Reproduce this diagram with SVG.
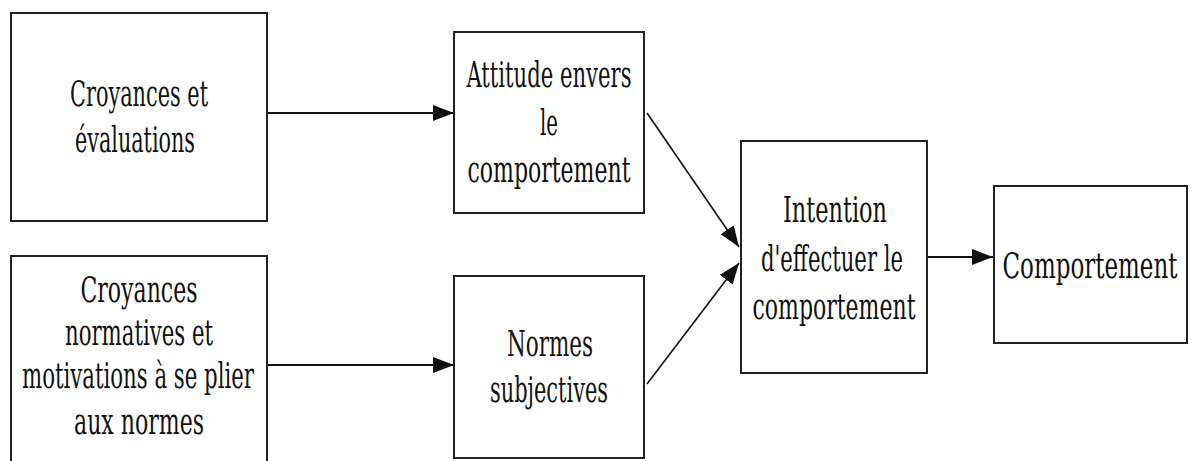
<svg xmlns="http://www.w3.org/2000/svg" width="1196" height="461" viewBox="0 0 1196 461">
  <style>
    .box { fill: #ffffff; stroke: #222222; stroke-width: 2; }
    .lbl { font-family: "DejaVu Serif Condensed", "DejaVu Serif", serif; font-stretch: condensed; font-size: 35px; fill: #111111; text-anchor: middle; }
    .edge { stroke: #111111; stroke-width: 2; fill: none; marker-end: url(#head); }
    .diag { stroke-width: 1.6; }
  </style>
  <defs>
    <marker id="head" markerUnits="userSpaceOnUse" markerWidth="22" markerHeight="16" refX="21" refY="8" orient="auto">
      <path d="M0,0 L21,8 L0,16 z" fill="#111111"/>
    </marker>
  </defs>
  <rect width="1196" height="461" fill="#ffffff"/>

  <!-- connectors -->
  <g id="connectors">
    <line class="edge" x1="267" y1="113" x2="454" y2="113"/>
    <line class="edge" x1="267" y1="365" x2="454" y2="365"/>
    <line class="edge diag" x1="647" y1="113" x2="739" y2="247"/>
    <line class="edge diag" x1="647" y1="384" x2="739" y2="263"/>
    <line class="edge" x1="927" y1="257" x2="993" y2="257"/>
  </g>

  <g id="croyances-evaluations">
    <rect class="box" x="11" y="13" width="256" height="208"/>
    <text class="lbl" x="139" y="106" textLength="138" lengthAdjust="spacingAndGlyphs">Croyances et</text>
    <text class="lbl" x="135" y="152" textLength="120" lengthAdjust="spacingAndGlyphs">évaluations</text>
  </g>

  <g id="croyances-normatives">
    <rect class="box" x="11" y="256" width="256" height="220"/>
    <text class="lbl" x="139" y="302" textLength="117" lengthAdjust="spacingAndGlyphs">Croyances</text>
    <text class="lbl" x="139" y="345" textLength="148" lengthAdjust="spacingAndGlyphs">normatives et</text>
    <text class="lbl" x="138" y="388" textLength="232" lengthAdjust="spacingAndGlyphs">motivations à se plier</text>
    <text class="lbl" x="139" y="434" textLength="130" lengthAdjust="spacingAndGlyphs">aux normes</text>
  </g>

  <g id="attitude">
    <rect class="box" x="454" y="32" width="190" height="181"/>
    <text class="lbl" x="549" y="87" textLength="165" lengthAdjust="spacingAndGlyphs">Attitude envers</text>
    <text class="lbl" x="549" y="135" textLength="18" lengthAdjust="spacingAndGlyphs">le</text>
    <text class="lbl" x="549" y="182" textLength="163" lengthAdjust="spacingAndGlyphs">comportement</text>
  </g>

  <g id="normes-subjectives">
    <rect class="box" x="454" y="276" width="190" height="182"/>
    <text class="lbl" x="550" y="356" textLength="86" lengthAdjust="spacingAndGlyphs">Normes</text>
    <text class="lbl" x="549" y="402" textLength="118" lengthAdjust="spacingAndGlyphs">subjectives</text>
  </g>

  <g id="intention">
    <rect class="box" x="741" y="141" width="186" height="232"/>
    <text class="lbl" x="835" y="222" textLength="104" lengthAdjust="spacingAndGlyphs">Intention</text>
    <text class="lbl" x="832" y="271" textLength="142" lengthAdjust="spacingAndGlyphs">d'effectuer le</text>
    <text class="lbl" x="834" y="319" textLength="163" lengthAdjust="spacingAndGlyphs">comportement</text>
  </g>

  <g id="comportement">
    <rect class="box" x="994" y="186" width="193" height="157"/>
    <text class="lbl" x="1090" y="278" textLength="175" lengthAdjust="spacingAndGlyphs">Comportement</text>
  </g>
</svg>
